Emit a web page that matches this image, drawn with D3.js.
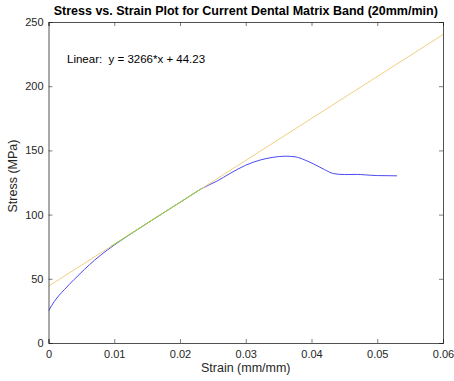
<!DOCTYPE html>
<html><head><meta charset="utf-8">
<script src="https://cdn.jsdelivr.net/npm/d3@7"></script>
<style>body{margin:0;background:#fff;} text{font-family:"Liberation Sans",Arial,Helvetica,sans-serif;}</style>
</head><body>
<svg id="c" width="454" height="381"></svg>
<script>
const strain = [0, 0.0009, 0.0024, 0.0039, 0.0055, 0.007, 0.008, 0.009, 0.010, 0.011, 0.012, 0.013, 0.016, 0.019, 0.021, 0.0233, 0.0256, 0.0276, 0.030, 0.0322, 0.034, 0.036, 0.0375, 0.039, 0.0403, 0.042, 0.0433, 0.045, 0.047, 0.048, 0.050, 0.053];
const stress = [25, 32.5, 41.5, 49.5, 57.5, 64.5, 68.7, 72.6, 76.3, 79.8, 83.2, 86.6, 96.5, 106.3, 112.8, 120.3, 126, 132, 138.5, 142.5, 144.5, 145.5, 145, 142.5, 139.5, 135, 132, 131.2, 131.3, 131, 130.4, 130.2];
const fitSlope = 3266, fitIntercept = 44.23;
const fitRange = [0.0095, 0.0233];
const lineRange = [0, 0.06];
const xTicks = [0, 0.01, 0.02, 0.03, 0.04, 0.05, 0.06];
const yTicks = [0, 50, 100, 150, 200, 250];
const title = "Stress vs. Strain Plot for Current Dental Matrix Band (20mm/min)";
const xLabel = "Strain (mm/mm)", yLabel = "Stress (MPa)";
const annotation = "Linear:  y = 3266*x + 44.23";

const svg = d3.select("#c");
const L = 48.5, R = 443, T = 22, B = 343;
const x = d3.scaleLinear().domain([0, 0.06]).range([L, R]);
const y = d3.scaleLinear().domain([0, 250]).range([B, T]);
const axCol = "#262626";

svg.append("clipPath").attr("id","clp").append("rect").attr("x",L).attr("y",T).attr("width",R-L).attr("height",B-T);
const plot = svg.append("g").attr("clip-path","url(#clp)");

const fit = s => fitSlope*s + fitIntercept;
const straight = d3.line().x(d=>x(d[0])).y(d=>y(d[1]));

plot.append("path").datum(strain.map((s,i)=>[s,stress[i]]))
  .attr("d", d3.line().x(d=>x(d[0])).y(d=>y(d[1])).curve(d3.curveMonotoneX)).attr("fill","none").attr("stroke","#4a4af0").attr("stroke-width",1);
plot.append("path").datum(lineRange.map(s=>[s,fit(s)]))
  .attr("d", straight).attr("fill","none").attr("stroke","#f0cf80").attr("stroke-width",1);
plot.append("path").datum(fitRange.map(s=>[s,fit(s)]))
  .attr("d", straight).attr("fill","none").attr("stroke","#8ccf3c").attr("stroke-width",1);

const bx = svg.append("g").attr("transform",`translate(0,${B})`).call(d3.axisBottom(x).tickValues(xTicks).tickSize(-4).tickPadding(7).tickFormat(d=>String(+d.toFixed(2))));
const tx = svg.append("g").attr("transform",`translate(0,${T})`).call(d3.axisTop(x).tickValues(xTicks).tickSize(-4).tickFormat(""));
const ly = svg.append("g").attr("transform",`translate(${L},0)`).call(d3.axisLeft(y).tickValues(yTicks).tickSize(-4).tickPadding(5));
const ry = svg.append("g").attr("transform",`translate(${R},0)`).call(d3.axisRight(y).tickValues(yTicks).tickSize(-4).tickFormat(""));
[bx,tx,ly,ry].forEach(g=>{
  g.select(".domain").attr("stroke",axCol).attr("stroke-width",0.8);
  g.selectAll(".tick line").attr("stroke",axCol).attr("stroke-width",0.6);
  g.selectAll(".tick text").attr("fill","#262626").style("font-size","11px").style("font-family","'Liberation Sans',Arial,sans-serif");
});

svg.append("text").attr("x",(L+R)/2).attr("y",15).attr("text-anchor","middle")
  .style("font-size","12.5px").style("font-weight","bold").attr("fill","#000").text(title);
svg.append("text").attr("x",(L+R)/2).attr("y",372).attr("text-anchor","middle")
  .style("font-size","12.5px").attr("fill","#262626").text(xLabel);
svg.append("text").attr("transform",`translate(17,176) rotate(-90)`).attr("text-anchor","middle")
  .style("font-size","12.5px").attr("fill","#262626").text(yLabel);
svg.append("text").attr("x",67).attr("y",63).style("font-size","11.5px").style("white-space","pre").attr("xml:space","preserve").attr("fill","#000").text(annotation);
</script>
</body></html>
